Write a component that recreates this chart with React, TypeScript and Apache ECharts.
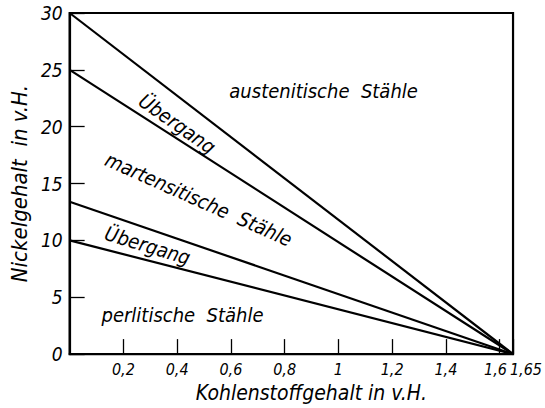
import React, { useEffect, useRef } from "react";
import * as echarts from "echarts";

// Nickel content at carbon = 0 for each boundary line; all lines meet at carbon 1.65
const carbonMax = 1.65;
const boundaryStarts = [30, 25, 13.4, 10];
const xTicks = [0, 0.2, 0.4, 0.6, 0.8, 1, 1.2, 1.4, 1.6, 1.65];
const yTicks = [0, 5, 10, 15, 20, 25, 30];

// region labels: [carbon, nickel, text, rotation in degrees]
const regionLabels: [number, number, string, number][] = [
  [0.945, 23.15, "austenitische  Stähle", 0],
  [0.4, 20.25, "Übergang", -35],
  [0.48, 13.6, "martensitische  Stähle", -24],
  [0.29, 9.55, "Übergang", -17],
  [0.42, 3.4, "perlitische  Stähle", 0],
];

const FONT = "'DejaVu Sans Condensed', 'DejaVu Sans', sans-serif";

const dec = (v: number) => String(Math.round(v * 100) / 100).replace(".", ",");

export default function App() {
  const ref = useRef<HTMLDivElement>(null);
  useEffect(() => {
    if (!ref.current) return;
    const chart = echarts.init(ref.current, undefined, { renderer: "svg" });
    const lineSeries = boundaryStarts.map((y0) => ({
      type: "line",
      data: [
        [0, y0],
        [carbonMax, 0],
      ],
      symbol: "none",
      lineStyle: { color: "#000", width: 2.2 },
      silent: true,
    }));
    const last = xTicks[xTicks.length - 1];
    const prev = xTicks[xTicks.length - 2];
    // the two crowded end labels (1,6 and 1,65) are set side by side under the end tick
    const fmt = (v: number) => {
      if (Math.abs(v - prev) < 1e-6) return "";
      if (Math.abs(v - last) < 1e-6) return "{a|" + dec(prev) + "}{b|" + dec(last) + "}";
      return dec(v);
    };
    const tickFont = { fontFamily: FONT, fontStyle: "italic", color: "#000" };
    chart.setOption({
      animation: false,
      backgroundColor: "#fff",
      grid: { left: 55, right: 24, top: 13, bottom: 49, containLabel: false, show: true, borderColor: "#000", borderWidth: 2.2 },
      xAxis: {
        type: "value",
        min: 0,
        max: carbonMax,
        interval: 0.2,
        name: "Kohlenstoffgehalt in v.H.",
        nameLocation: "middle",
        nameGap: 25,
        nameTextStyle: { ...tickFont, fontSize: 21, padding: [0, 0, 0, 40] },
        axisLine: { show: true, lineStyle: { color: "#000", width: 2.2 } },
        axisTick: { show: true, inside: true, length: 15, lineStyle: { color: "#000", width: 1.3 } },
        splitLine: { show: false },
        axisLabel: {
          showMinLabel: false,
          showMaxLabel: true,
          margin: 7,
          ...tickFont,
          fontSize: 16,
          formatter: fmt,
          rich: {
            a: { ...tickFont, fontSize: 16 },
            b: { ...tickFont, fontSize: 16, padding: [0, 0, 0, 3] },
          },
        },
      },
      yAxis: {
        type: "value",
        min: 0,
        max: 30,
        interval: 5,
        name: "Nickelgehalt  in v.H.",
        nameLocation: "middle",
        nameGap: 26,
        nameTextStyle: { ...tickFont, fontSize: 22 },
        axisLine: { show: true, lineStyle: { color: "#000", width: 2.2 } },
        axisTick: { show: true, inside: true, length: 15, lineStyle: { color: "#000", width: 1.3 } },
        splitLine: { show: false },
        axisLabel: {
          margin: 7,
          ...tickFont,
          fontSize: 19,
          formatter: (v: number) => String(v),
        },
      },
      series: [
        ...lineSeries,
        {
          type: "scatter",
          symbolSize: 0,
          silent: true,
          itemStyle: { opacity: 1, color: "#000" },
          data: regionLabels.map(([x, y, t, r]) => ({
            value: [x, y],
            label: {
              show: true,
              position: "inside",
              formatter: t,
              rotate: r,
              ...tickFont,
              opacity: 1,
              fontSize: 20,
            },
          })),
        },
      ],
    });
    return () => chart.dispose();
  }, []);
  return (
    <div
      ref={ref}
      style={{ position: "fixed", left: 0, top: 0, width: 545, height: 408, background: "#fff" }}
    />
  );
}
